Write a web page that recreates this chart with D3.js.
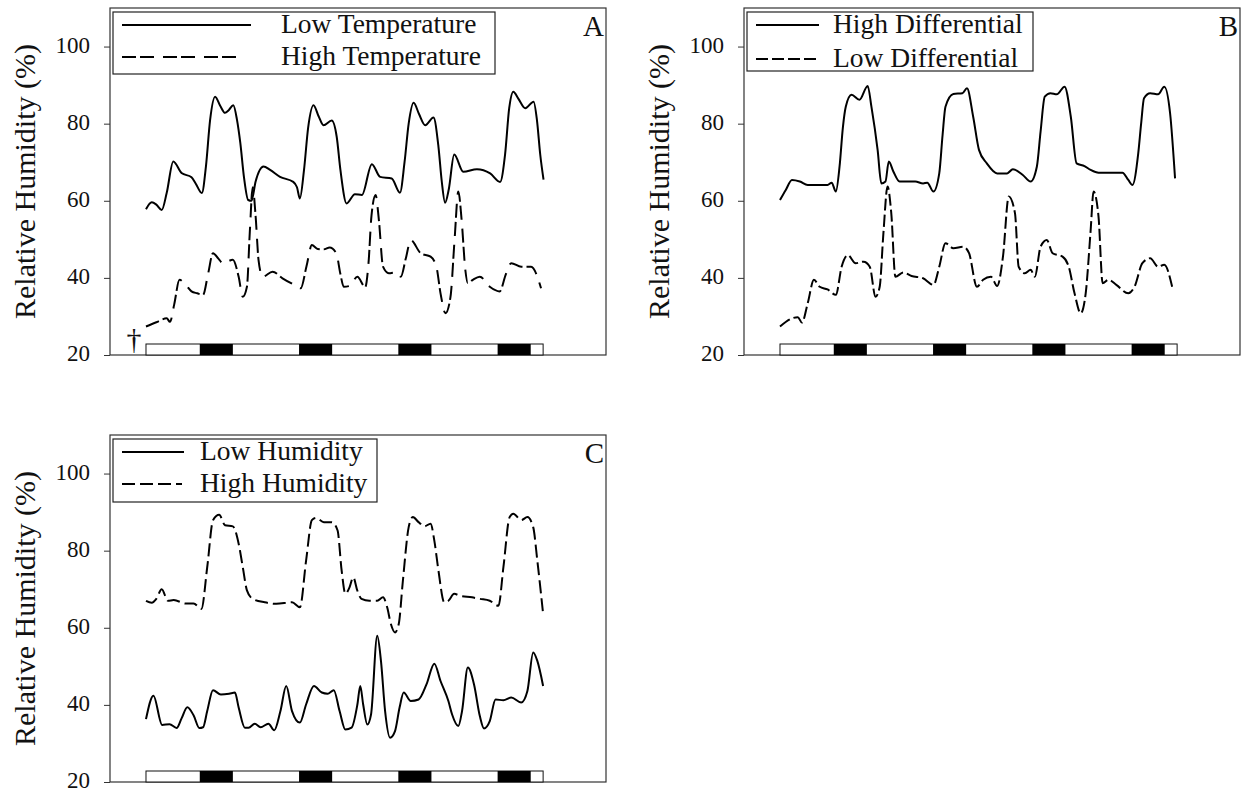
<!DOCTYPE html>
<html>
<head>
<meta charset="utf-8">
<script src="https://cdn.jsdelivr.net/npm/d3@7"></script>
<style>
    body { margin: 0; background: #fff; }
    svg { display: block; }
    svg text { font-family: 'Liberation Serif', 'DejaVu Serif', 'Times New Roman', Times, serif !important; fill: #111; }
</style>
</head>
<body>
<svg id="chart" width="1247" height="793"></svg>
<script>
// Hours since start of recording, relative humidity (%)
const aLowTemp = [[0,57.8],[1.4,59.6],[2.5,59],[3.8,57.6],[5,62],[6.6,70.2],[8.6,67.2],[11,66.1],[12,64.5],[13.5,62],[14.5,69],[15.5,81],[16.7,87],[18,84.5],[19.1,82.8],[20,83.5],[21.1,84.8],[22,81],[22.8,75],[23.7,66],[24.7,60.2],[25.5,60],[26.5,65],[28.4,68.9],[30,68],[32.4,66.2],[35.6,64.9],[36.5,63.5],[37.2,60.6],[38.2,68],[39.2,79],[40.5,84.8],[41.7,82],[42.9,79.6],[44.9,80.8],[46.1,76.6],[47,68],[48.5,59.3],[50.5,61.7],[52.2,61.5],[54.6,69.5],[56.6,66.2],[59.4,65.8],[61.4,62.1],[62.5,70],[63.5,80],[64.7,85.4],[66,82.5],[67.5,79.6],[69.5,81.6],[70.7,74],[71.5,65],[72.3,59.5],[73.2,63],[74.5,72],[76.7,67.5],[80,68.2],[83.2,67.1],[85.6,64.9],[86.8,72],[87.8,84],[88.8,88.3],[90,86.5],[91.7,84],[93.7,85.7],[94.5,81],[95.3,72],[96.1,65.5]];
const aHighTemp = [[0,27.4],[2.5,28.5],[5,29.5],[5.8,28.6],[6.8,33],[8.1,39.5],[9.6,38.2],[11,36.5],[12.4,36],[13.8,35.6],[15,41],[16.2,46.4],[17.5,45],[18.6,43.8],[21,44.7],[22.4,40.3],[23.4,35.1],[24.4,37.7],[25.1,52],[25.8,63.5],[26.5,56],[27.2,44.7],[28.2,40.3],[30.6,41.6],[33,39.9],[35.8,38.2],[37.4,37.3],[38.8,43],[40.1,48.5],[41.5,47.5],[43,47.4],[44.4,47.9],[46,46.4],[47,41],[47.8,37.7],[49.2,37.9],[51.1,40.3],[53,37.6],[53.8,44],[54.5,56],[55.5,61.5],[56.3,55],[57.3,42.9],[58.7,41.2],[60.5,41.5],[61.6,40.3],[62.8,45],[64,49.8],[66.4,46.4],[68.8,45.5],[70.2,42.9],[71.2,36],[72.4,30.8],[73.6,35],[74.6,50],[75.5,62.4],[76.3,55],[77.2,42],[77.8,38.6],[79,39.5],[80.7,40.3],[83.1,37.7],[85.5,36.5],[87,41],[88.3,43.8],[90.7,42.9],[93.1,42.9],[95.5,37.3]];

const bHighDiff = [[0,60.2],[1.4,62.8],[2.9,65.4],[4.8,65],[6.7,64.1],[9,64.1],[11.5,64.1],[12.5,64.7],[13.5,62.4],[14.4,68.9],[15.2,79],[15.9,84.4],[17.3,87.5],[19.2,86.2],[21.2,89.8],[22.1,84.4],[23.6,73.2],[24.5,64.5],[25.5,65],[26.3,70.2],[27.4,67.6],[28.9,65],[32.7,65],[34.6,64.5],[35.6,64.7],[37.1,62.4],[38.5,67.1],[39.3,77],[40,84.4],[41.9,87.7],[44.1,87.9],[45.2,89.2],[46.7,81.8],[48.1,73.2],[50,69.7],[52.5,67.1],[54.9,67.1],[56.3,68.2],[58.7,66.7],[60.6,65],[62.1,68.9],[63,78],[64,87],[65.4,87.9],[66.9,87.6],[68.8,89.6],[70.3,81.8],[71.7,69.7],[73.6,69],[75.1,68],[77,67.3],[82.8,67.3],[84.2,65.4],[85.2,64.1],[86.6,72.3],[87.3,80],[88,86.6],[89.5,87.9],[91.4,87.6],[92.9,89.6],[94.3,82.7],[95.5,65.8]];
const bLowDiff = [[0,27.4],[2.9,29.5],[4.3,29.8],[5.3,28.4],[6.7,33.4],[8.2,39.5],[9.6,37.7],[11.5,37],[13.5,35.6],[14.9,42.9],[16.4,45.9],[18.3,43.8],[20.2,44.2],[21.7,42.9],[23.1,35.1],[24.1,37.7],[25,51.6],[26,63.7],[26.9,56.8],[27.9,40.3],[29.8,41.4],[31.8,40.5],[34.6,39.9],[37.1,38.2],[38.5,42.9],[40,49],[41.9,47.7],[44.3,48.1],[45.7,46.4],[47.6,37.7],[49.1,39.5],[51,40.3],[52.5,37.9],[53.9,45.5],[55.3,61.1],[56.8,56.8],[57.7,42.9],[59.2,41.2],[60.6,42.1],[61.6,40.3],[63,48.1],[64.5,49.8],[65.9,46.4],[68.3,45.5],[69.8,42.9],[71.2,36],[72.7,30.8],[73.9,36],[75.1,52.4],[75.8,62.4],[77,55.9],[78,38.6],[79.4,39.5],[81.3,38.2],[84.2,36],[85.7,37.7],[87.6,43.8],[89.5,45.1],[91.4,42.9],[92.9,43.4],[94.8,37.7]];

const cLowHum = [[0,36.3],[1.8,42.4],[3.9,34.8],[5.7,35],[7.4,34],[8.6,36.5],[10,39.4],[11.5,37.3],[12.9,34],[13.8,34.2],[14.8,38.4],[16.2,43.8],[18.1,42.7],[20.1,42.9],[21.5,43.2],[22.4,39.3],[23.9,34.1],[24.8,34.1],[26.3,35.1],[27.7,34.2],[29.6,35.1],[31,33.4],[32.5,38.4],[33.9,44.9],[35.3,38.4],[37.2,35.4],[38.7,40.1],[40.6,44.9],[42.5,43.2],[43.9,42.9],[45.4,43.8],[46.8,38.4],[48.2,33.6],[49.7,34.1],[51.1,40.1],[51.8,44.9],[52.5,40.1],[53.5,34.9],[54.4,37.5],[55.9,57.9],[56.8,51.4],[57.8,38.4],[59,31.5],[60.2,33.2],[61.3,39.3],[62.3,43.2],[64,41],[65.9,41.4],[67.8,45.3],[69.7,50.7],[71.2,46.2],[73.1,41],[74,37.5],[75.5,34.5],[76.4,38.4],[77.8,49.7],[79.3,45.3],[80.7,37.1],[81.7,33.9],[83.1,35.8],[84.5,41.4],[86.4,41.2],[88.3,41.9],[90.7,40.6],[92.2,43.6],[93.6,53.6],[94.6,51.4],[96,44.9]];
const cHighHum = [[0,67],[1.4,66.5],[2.5,67.5],[3.8,70],[5.3,67],[6.7,67.2],[9.6,66.3],[11.5,66.3],[13.4,64.9],[14.8,75.7],[16.2,87.9],[17.7,89.3],[19.1,86.6],[21,86.3],[22.4,81.8],[23.4,75.7],[24.4,69.7],[25.8,67.5],[28.7,66.6],[31.5,66.2],[35.3,66.6],[37.2,65.3],[38.7,77.4],[40.1,87.9],[41.1,88.5],[43,87.4],[44.9,87.4],[46.3,85.3],[47.3,74.8],[48.2,68.8],[49.2,70.5],[50.1,73.1],[51.1,69.6],[52.1,67.5],[54,67],[55.9,67],[57.3,67.9],[58.3,65.3],[59.2,61],[60.2,58.8],[61.1,61],[62.1,72.2],[63.5,86.1],[64.5,88.7],[65.9,87.4],[67.3,86.3],[68.8,87],[69.7,82.6],[70.7,74.8],[72.1,66.6],[73.1,67],[74.5,68.8],[75.9,68.3],[78.8,67.9],[80.7,67.5],[83.1,67],[85.2,65.7],[86.4,75.7],[87.9,88.7],[88.8,89.6],[90.7,87.9],[92.2,88.7],[93.6,86.1],[94.6,77.4],[96,63.6]];

// light/dark schedule (hours)
const recordSpan = [0, 96];
const darkStarts = [13, 37, 61, 85];
const darkEnds = [21, 45, 69, 93];
const yTicks = [20, 40, 60, 80, 100];
const daggerHour = -2.9;

const serif = "'Liberation Serif', 'DejaVu Serif', 'Times New Roman', Times, serif";
const panelW = 496, panelH = 347;
const svg = d3.select('#chart');

const x = d3.scaleLinear().domain([-8.7, 111.2]).range([0, panelW]);
const y = d3.scaleLinear().domain([20, 110]).range([panelH, 0]);

const line = d3.line()
    .x(d => x(d[0]))
    .y(d => y(d[1]))
    .curve(d3.curveMonotoneX);

const panels = [
    {letter: 'A', left: 110, top: 8, names: ['Low Temperature', 'High Temperature'],
     solid: aLowTemp, dashed: aHighTemp, dash: '14,4,14,9',
     legend: {right: 385, bottom: 66, textX: 171, ends: [141, 131], rows: [25, 57]}, dagger: true},
    {letter: 'B', left: 744, top: 8, names: ['High Differential', 'Low Differential'],
     solid: bHighDiff, dashed: bLowDiff, dash: '12,4',
     legend: {right: 289, bottom: 63, textX: 89, ends: [75, 72], rows: [25, 59]}},
    {letter: 'C', left: 110, top: 435, names: ['Low Humidity', 'High Humidity'],
     solid: cLowHum, dashed: cHighHum, dash: '13,5',
     legend: {right: 267, bottom: 67, textX: 90, ends: [74, 72], rows: [25, 57]}}
];

panels.forEach(drawPanel);

function drawPanel(p) {
    const g = svg.append('g')
        .attr('transform', `translate(${p.left},${p.top})`)
        .attr('font-family', serif);

    // frame
    g.append('rect')
        .attr('x', 0).attr('y', 0)
        .attr('width', panelW).attr('height', panelH)
        .attr('fill', 'none').attr('stroke', '#333').attr('stroke-width', 1.2);

    // y axis
    const yAxis = g.append('g')
        .call(d3.axisLeft(y).tickValues(yTicks).tickSize(6).tickSizeOuter(0).tickPadding(14))
        .attr('font-family', serif);
    yAxis.select('.domain').remove();
    yAxis.selectAll('line').attr('stroke', '#333');
    yAxis.selectAll('text')
        .attr('font-family', serif)
        .attr('font-size', 23)
        .attr('fill', '#111')
        .attr('dy', '0.26em');

    g.append('text')
        .attr('transform', `translate(-75,${panelH / 2}) rotate(-90)`)
        .attr('text-anchor', 'middle')
        .attr('font-family', serif)
        .attr('font-size', 30)
        .text('Relative Humidity (%)');

    // light/dark bar
    const barH = 11;
    g.append('rect')
        .attr('x', x(recordSpan[0])).attr('y', panelH - barH)
        .attr('width', x(recordSpan[1]) - x(recordSpan[0])).attr('height', barH)
        .attr('fill', '#fff').attr('stroke', '#111').attr('stroke-width', 1);
    g.selectAll('.dark')
        .data(d3.zip(darkStarts, darkEnds))
        .enter()
        .append('rect')
        .attr('class', 'dark')
        .attr('x', d => x(d[0])).attr('y', panelH - barH)
        .attr('width', d => x(d[1]) - x(d[0])).attr('height', barH)
        .attr('fill', '#000');

    // series
    g.append('path')
        .datum(p.solid)
        .attr('d', line)
        .attr('fill', 'none').attr('stroke', '#000').attr('stroke-width', 2);
    g.append('path')
        .datum(p.dashed)
        .attr('d', line)
        .attr('fill', 'none').attr('stroke', '#000').attr('stroke-width', 2)
        .attr('stroke-dasharray', p.dash);

    // legend
    const L = p.legend;
    g.append('rect')
        .attr('x', 3).attr('y', 4)
        .attr('width', L.right - 3).attr('height', L.bottom - 4)
        .attr('fill', '#fff').attr('stroke', '#222').attr('stroke-width', 1.2);
    [0, 1].forEach(i => {
        g.append('line')
            .attr('x1', 12).attr('x2', L.ends[i])
            .attr('y1', L.rows[i] - 8).attr('y2', L.rows[i] - 8)
            .attr('stroke', '#000').attr('stroke-width', 2)
            .attr('stroke-dasharray', i === 1 ? p.dash : null);
        g.append('text')
            .attr('x', L.textX).attr('y', L.rows[i])
            .attr('font-family', serif)
            .attr('font-size', 27.5)
            .text(p.names[i]);
    });

    // panel letter
    g.append('text')
        .attr('x', panelW - 2).attr('y', 28)
        .attr('text-anchor', 'end')
        .attr('font-family', serif)
        .attr('font-size', 29)
        .text(p.letter);

    if (p.dagger) {
        g.append('text')
            .attr('x', x(daggerHour)).attr('y', panelH - 6)
            .attr('text-anchor', 'middle')
            .attr('font-family', serif)
            .attr('font-size', 30)
            .text('†');
    }
}
</script>
</body>
</html>
